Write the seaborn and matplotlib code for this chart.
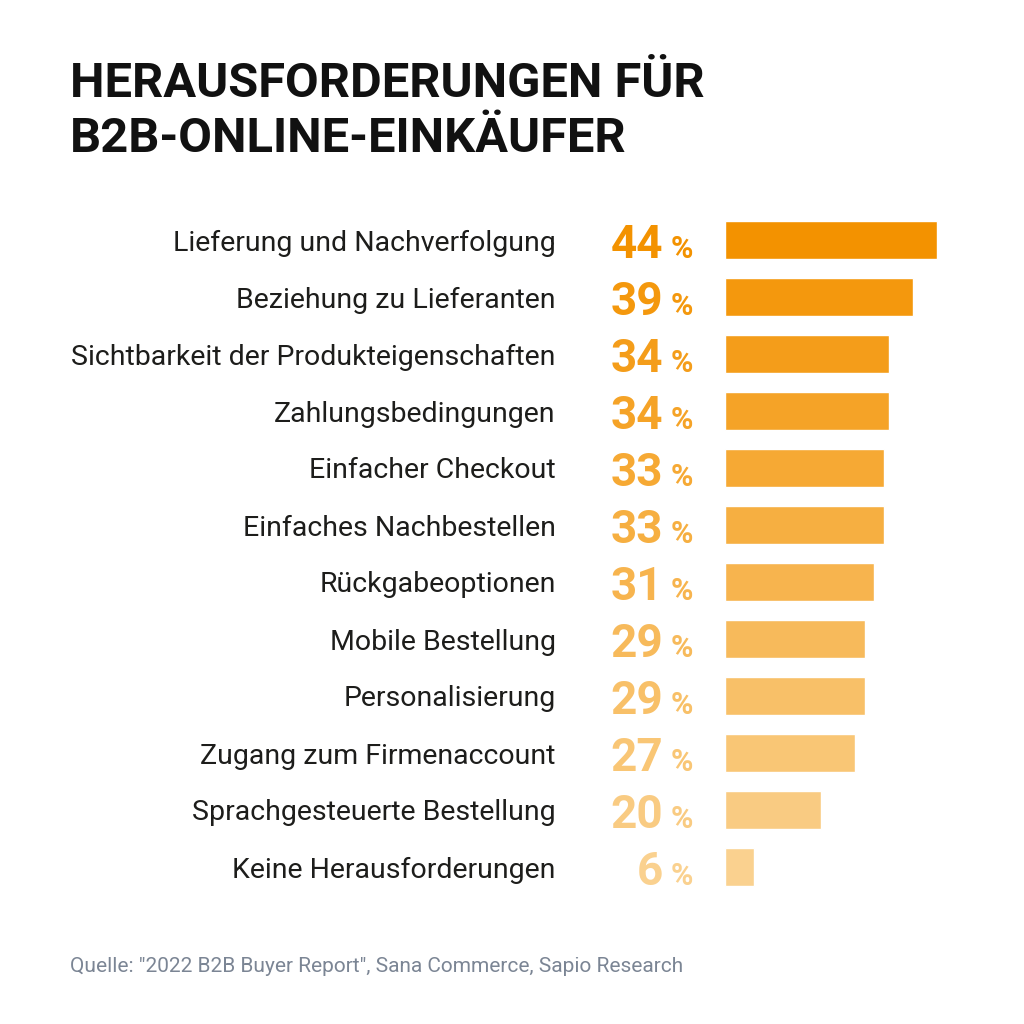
import matplotlib
matplotlib.use("Agg")
import matplotlib.pyplot as plt
import matplotlib.transforms as mtransforms
import seaborn as sns
import pandas as pd

# data
categories = [
    "Lieferung und Nachverfolgung",
    "Beziehung zu Lieferanten",
    "Sichtbarkeit der Produkteigenschaften",
    "Zahlungsbedingungen",
    "Einfacher Checkout",
    "Einfaches Nachbestellen",
    "Rückgabeoptionen",
    "Mobile Bestellung",
    "Personalisierung",
    "Zugang zum Firmenaccount",
    "Sprachgesteuerte Bestellung",
    "Keine Herausforderungen",
]
values = [44, 39, 34, 34, 33, 33, 31, 29, 29, 27, 20, 6]

title_lines = ["HERAUSFORDERUNGEN FÜR", "B2B-ONLINE-EINKÄUFER"]
source = 'Quelle: "2022 B2B Buyer Report", Sana Commerce, Sapio Research'

df = pd.DataFrame({"category": categories, "value": values})
colors = sns.blend_palette(["#F39200", "#FAD18F"], len(categories))

sns.set_style("white")
plt.rcParams["font.family"] = ["Roboto", "DejaVu Sans"]

fig = plt.figure(figsize=(10.24, 10.24), dpi=100)
fig.patch.set_facecolor("white")

# bars axis: left edge at 725px, 4.82 px per percent
ax = fig.add_axes([725 / 1024, 1 - 895.5 / 1024, 275 / 1024, 684 / 1024])
sns.barplot(
    data=df, x="value", y="category", hue="category", palette=colors,
    legend=False, orient="h", width=0.67, saturation=1, ax=ax,
)
ax.set_xlim(0, 275 / 4.82)
ax.set_ylim(len(categories) - 0.5, -0.5)
ax.set_xlabel("")
ax.set_ylabel("")
ax.set_xticks([])
sns.despine(ax=ax, left=True, bottom=True)
ax.tick_params(axis="y", length=0, pad=122, labelsize=20.5, labelcolor="#1d1d1b")

# value labels
trans = mtransforms.blended_transform_factory(fig.transFigure, ax.transData)
for i, (v, c) in enumerate(zip(values, colors)):
    ax.text(663 / 1024, i + 0.31, f"{v}", transform=trans, ha="right", va="baseline",
            fontsize=33, fontweight="bold", color=c, clip_on=False)
    ax.text(671 / 1024, i + 0.31, "%", transform=trans, ha="left", va="baseline",
            fontsize=22, fontweight="bold", color=c, clip_on=False)

# title
for line, base in zip(title_lines, [97, 152]):
    fig.text(70 / 1024, 1 - base / 1024, line, ha="left", va="baseline",
             fontsize=35.2, fontweight="bold", color="#111111")

# source
fig.text(70 / 1024, 1 - 972 / 1024, source, ha="left", va="baseline",
         fontsize=15, color="#7B8594")

fig.savefig("out.png", dpi=100, facecolor="white")
